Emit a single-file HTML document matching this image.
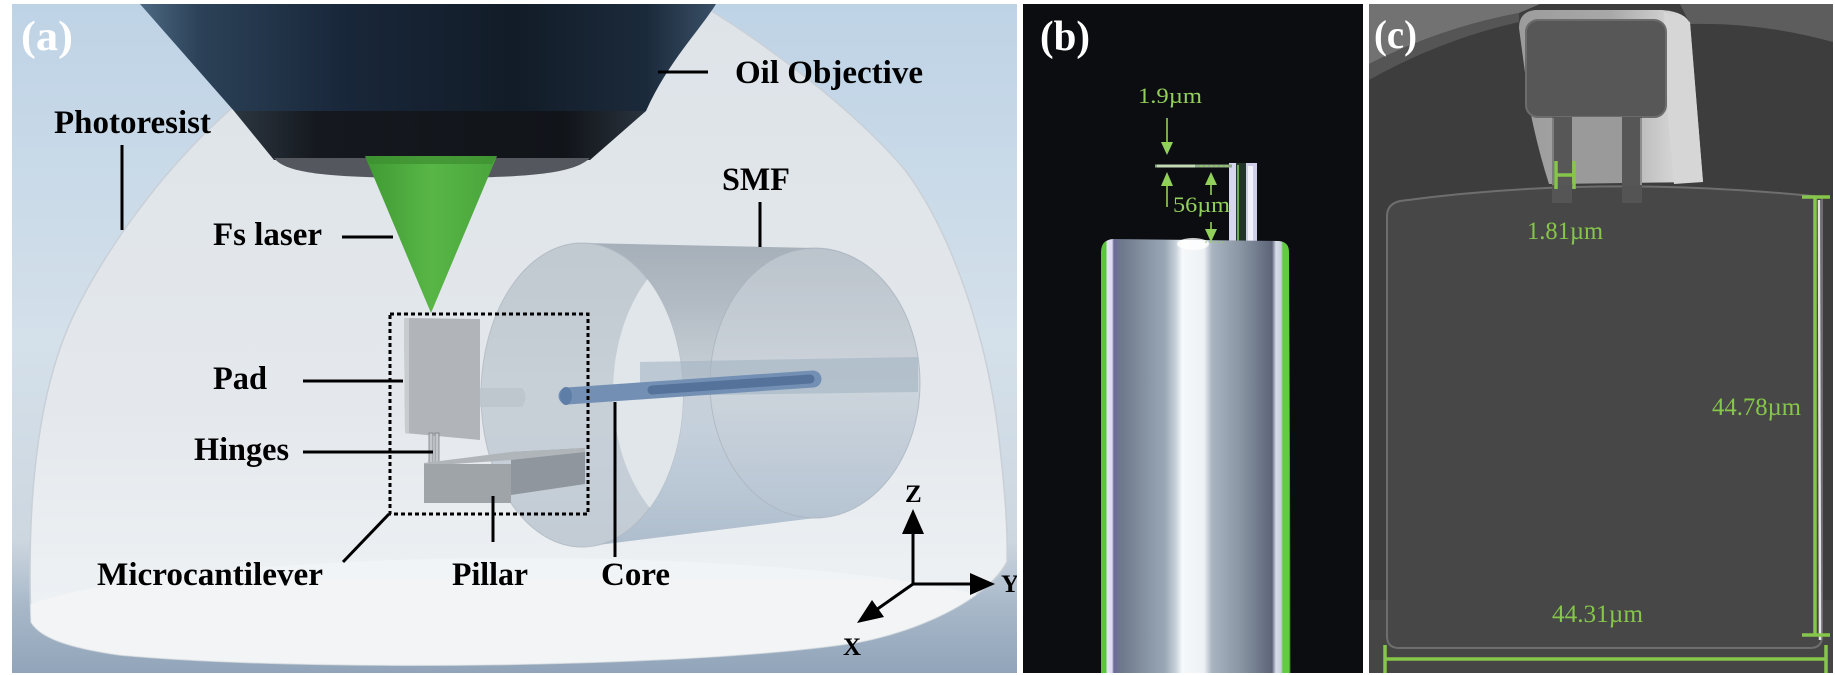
<!DOCTYPE html>
<html><head><meta charset="utf-8">
<style>
html,body{margin:0;padding:0;background:#fff;}
svg{display:block;}
</style></head><body>
<svg width="1835" height="675" viewBox="0 0 1835 675" xmlns="http://www.w3.org/2000/svg">
<defs>
  <linearGradient id="sky" x1="0" y1="4" x2="0" y2="673" gradientUnits="userSpaceOnUse">
    <stop offset="0" stop-color="#bed3e6"/>
    <stop offset="0.5" stop-color="#d4e0ea"/>
    <stop offset="0.8" stop-color="#cdd7e0"/>
    <stop offset="0.9" stop-color="#a8b8c9"/>
    <stop offset="1" stop-color="#91a4b9"/>
  </linearGradient>
  <linearGradient id="dome" x1="0" y1="0" x2="0" y2="673" gradientUnits="userSpaceOnUse">
    <stop offset="0" stop-color="#dde3e8"/>
    <stop offset="0.6" stop-color="#e4e8ec"/>
    <stop offset="0.85" stop-color="#ecf0f3"/>
    <stop offset="1" stop-color="#f1f3f5"/>
  </linearGradient>
  <linearGradient id="obj" x1="140" y1="0" x2="716" y2="0" gradientUnits="userSpaceOnUse">
    <stop offset="0" stop-color="#4d6983"/>
    <stop offset="0.1" stop-color="#2c4258"/>
    <stop offset="0.35" stop-color="#19273a"/>
    <stop offset="0.65" stop-color="#121c28"/>
    <stop offset="0.88" stop-color="#1b2a3b"/>
    <stop offset="1" stop-color="#3a5067"/>
  </linearGradient>
  <linearGradient id="objb" x1="234" y1="0" x2="646" y2="0" gradientUnits="userSpaceOnUse">
    <stop offset="0" stop-color="#2c3640"/>
    <stop offset="0.2" stop-color="#15191f"/>
    <stop offset="0.8" stop-color="#111419"/>
    <stop offset="1" stop-color="#2a333d"/>
  </linearGradient>
  <linearGradient id="green" x1="365" y1="0" x2="497" y2="0" gradientUnits="userSpaceOnUse">
    <stop offset="0" stop-color="#3f9a33"/>
    <stop offset="0.5" stop-color="#58b646"/>
    <stop offset="1" stop-color="#49a53b"/>
  </linearGradient>
  <linearGradient id="cyl" x1="0" y1="243" x2="0" y2="547" gradientUnits="userSpaceOnUse">
    <stop offset="0" stop-color="#a1abb5"/>
    <stop offset="0.2" stop-color="#aeb7c0"/>
    <stop offset="0.45" stop-color="#c7cfd6"/>
    <stop offset="0.6" stop-color="#c2cedA"/>
    <stop offset="0.85" stop-color="#b3c2d1"/>
    <stop offset="1" stop-color="#a8b8c9"/>
  </linearGradient>
  <linearGradient id="backf" x1="0" y1="248" x2="0" y2="518" gradientUnits="userSpaceOnUse">
    <stop offset="0" stop-color="#c2cad2"/>
    <stop offset="0.5" stop-color="#cfd6dd"/>
    <stop offset="1" stop-color="#b7c5d3"/>
  </linearGradient>
  <linearGradient id="fiber" x1="1101" y1="0" x2="1291" y2="0" gradientUnits="userSpaceOnUse">
    <stop offset="0" stop-color="#58c83a"/>
    <stop offset="0.026" stop-color="#58c83a"/>
    <stop offset="0.032" stop-color="#e4e4f4"/>
    <stop offset="0.058" stop-color="#dcdcee"/>
    <stop offset="0.068" stop-color="#6c6a98"/>
    <stop offset="0.111" stop-color="#6e7a8c"/>
    <stop offset="0.337" stop-color="#9aa8b6"/>
    <stop offset="0.395" stop-color="#c8d2da"/>
    <stop offset="0.426" stop-color="#f6f8fa"/>
    <stop offset="0.542" stop-color="#eef2f5"/>
    <stop offset="0.584" stop-color="#a8b4c0"/>
    <stop offset="0.732" stop-color="#8a96a4"/>
    <stop offset="0.847" stop-color="#6a7486"/>
    <stop offset="0.9" stop-color="#5e6478"/>
    <stop offset="0.921" stop-color="#d8dcea"/>
    <stop offset="0.947" stop-color="#c8d0dc"/>
    <stop offset="0.958" stop-color="#62cc40"/>
    <stop offset="0.99" stop-color="#62cc40"/>
    <stop offset="1" stop-color="#0b0c0f"/>
  </linearGradient>
  <linearGradient id="pillar" x1="1519" y1="0" x2="1702" y2="0" gradientUnits="userSpaceOnUse">
    <stop offset="0" stop-color="#9c9c9c"/>
    <stop offset="0.5" stop-color="#a8a8a8"/>
    <stop offset="0.8" stop-color="#cfcfcf"/>
    <stop offset="1" stop-color="#e2e2e2"/>
  </linearGradient>
  <clipPath id="clipA"><rect x="12" y="4" width="1005" height="669"/></clipPath>
  <clipPath id="clipDome"><path d="M 31 622 C 28 540 30 420 67 330 C 90 275 150 180 232 108 L 330 4 L 700 4 C 760 40 850 105 905 170 C 950 230 985 330 998 430 C 1005 490 1008 530 1007 562 C 990 595 930 628 860 642 C 700 668 300 672 120 655 C 70 648 40 638 31 622 Z"/></clipPath>
  <clipPath id="clipFront"><ellipse cx="582" cy="395" rx="101" ry="152"/></clipPath>
  <clipPath id="clipB"><rect x="1023" y="4" width="340" height="669"/></clipPath>
  <clipPath id="clipC"><rect x="1369" y="4" width="464" height="669"/></clipPath>
</defs>

<rect x="0" y="0" width="1835" height="675" fill="#ffffff"/>

<!-- ================= PANEL A ================= -->
<g clip-path="url(#clipA)">
  <rect x="12" y="4" width="1005" height="669" fill="url(#sky)"/>
  <!-- dome -->
  <path d="M 31 622 C 28 540 30 420 67 330 C 90 275 150 180 232 108 L 330 4 L 700 4 C 760 40 850 105 905 170 C 950 230 985 330 998 430 C 1005 490 1008 530 1007 562 C 990 595 930 628 860 642 C 700 668 300 672 120 655 C 70 648 40 638 31 622 Z" fill="url(#dome)" stroke="#c9d0d7" stroke-width="1.5"/>
  <g clip-path="url(#clipDome)">
    <ellipse cx="520" cy="628" rx="520" ry="70" fill="#f2f4f6" opacity="0.85"/>
  </g>

  <!-- objective -->
  <path d="M 140 4 L 716 4 C 700 30 668 62 646 111 L 234 111 Z" fill="url(#obj)"/>
  <path d="M 234 111 L 646 111 L 590 160 L 274 160 Z" fill="url(#objb)"/>
  <path d="M 274 158 L 590 158 C 575 172 540 178 430 178 C 320 178 285 172 274 158 Z" fill="#54585e"/>
  <!-- laser cone -->
  <polygon points="365,156 497,156 431,313" fill="url(#green)"/>
  <polygon points="365,156 497,156 492,164 370,164" fill="#3d8e31" opacity="0.7"/>

  <!-- SMF cylinder -->
  <path d="M 582 243 L 815 248 A 105 135 0 0 1 815 518 L 582 547 A 101 152 0 0 1 582 243 Z" fill="url(#cyl)" opacity="0.92"/>
  <ellipse cx="815" cy="383" rx="105" ry="135" fill="url(#backf)" opacity="0.75" stroke="#aab4be" stroke-width="1"/>
  <ellipse cx="582" cy="395" rx="101" ry="152" fill="#c8d0d7" opacity="0.8" stroke="#b2bac2" stroke-width="1"/>
  <g clip-path="url(#clipFront)">
    <ellipse cx="714" cy="392" rx="101" ry="150" fill="#e0e6ea"/>
  </g>
  <!-- cladding band -->
  <path d="M 640 362 L 918 357 L 918 392 L 640 396 Z" fill="#9fb0c1" opacity="0.55"/>
  <!-- small rod left -->
  <path d="M 480 388 L 522 388 Q 529 397 522 407 L 480 407 Z" fill="#bcc5cd" opacity="0.9"/>
  <!-- core -->
  <line x1="567" y1="396" x2="813" y2="379" stroke="#7390b4" stroke-width="17" stroke-linecap="round"/>
  <line x1="652" y1="390" x2="810" y2="379" stroke="#55729a" stroke-width="9" stroke-linecap="round"/>
  <ellipse cx="566" cy="396" rx="6" ry="9" fill="#5e7ea8"/>

  <!-- pad / hinges / cantilever -->
  <polygon points="404,318 480,319 480,440 405,433" fill="#b1b5b9"/>
  <polygon points="404,318 409,318 409,434 405,433" fill="#c9cccf"/>
  <rect x="429" y="433" width="4" height="31" fill="#c3c7cb" stroke="#7a7f84" stroke-width="0.8"/>
  <rect x="435" y="433" width="4" height="31" fill="#c3c7cb" stroke="#7a7f84" stroke-width="0.8"/>
  <polygon points="511,452 585,448 585,484 511,495" fill="#8f969d"/>
  <polygon points="424,463 511,452 585,448 585,452 511,460 424,466" fill="#b0b5ba"/>
  <rect x="424" y="464" width="87" height="39" fill="#9fa4a9"/>

  <!-- dashed box -->
  <rect x="390" y="314" width="198" height="200" fill="none" stroke="#000" stroke-width="3" stroke-dasharray="4 3"/>

  <!-- leaders -->
  <g stroke="#000" stroke-width="3" fill="none">
    <line x1="658" y1="72" x2="708" y2="72"/>
    <line x1="122" y1="145" x2="122" y2="230"/>
    <line x1="342" y1="237" x2="393" y2="237"/>
    <line x1="760" y1="202" x2="760" y2="247"/>
    <line x1="303" y1="381" x2="403" y2="381"/>
    <line x1="303" y1="452" x2="433" y2="452"/>
    <line x1="343" y1="562" x2="389" y2="514"/>
    <line x1="493" y1="496" x2="493" y2="542"/>
    <line x1="615" y1="402" x2="615" y2="557"/>
  </g>

  <!-- axes -->
  <g stroke="#000" stroke-width="3">
    <line x1="913" y1="585" x2="913" y2="530"/>
    <line x1="912" y1="584" x2="972" y2="584"/>
    <line x1="913" y1="584" x2="876" y2="610"/>
  </g>
  <polygon points="913,509 902,534 924,534" fill="#000"/>
  <polygon points="995,584 970,573 970,595" fill="#000"/>
  <polygon points="857,623 872,600 884,617" fill="#000"/>

  <!-- labels -->
  <g font-family="'Liberation Serif','Times New Roman',serif" font-weight="bold" font-size="33" fill="#000">
    <text x="735" y="83" textLength="188" lengthAdjust="spacingAndGlyphs">Oil Objective</text>
    <text x="54" y="133" textLength="157" lengthAdjust="spacingAndGlyphs">Photoresist</text>
    <text x="213" y="245" textLength="109" lengthAdjust="spacingAndGlyphs">Fs laser</text>
    <text x="722" y="190" textLength="68" lengthAdjust="spacingAndGlyphs">SMF</text>
    <text x="213" y="389" textLength="54" lengthAdjust="spacingAndGlyphs">Pad</text>
    <text x="194" y="460" textLength="95" lengthAdjust="spacingAndGlyphs">Hinges</text>
    <text x="97" y="585" textLength="226" lengthAdjust="spacingAndGlyphs">Microcantilever</text>
    <text x="452" y="585" textLength="76" lengthAdjust="spacingAndGlyphs">Pillar</text>
    <text x="601" y="585" textLength="69" lengthAdjust="spacingAndGlyphs">Core</text>
  </g>
  <g font-family="'Liberation Serif','Times New Roman',serif" font-weight="bold" font-size="25" fill="#000">
    <text x="905" y="502">Z</text>
    <text x="1001" y="592">Y</text>
    <text x="843" y="655">X</text>
  </g>
  <text x="21" y="50" font-family="'Liberation Serif','Times New Roman',serif" font-weight="bold" font-size="42" fill="#ffffff" textLength="52" lengthAdjust="spacingAndGlyphs">(a)</text>
</g>

<!-- ================= PANEL B ================= -->
<g clip-path="url(#clipB)">
  <rect x="1023" y="4" width="340" height="669" fill="#0c0d10"/>
  <!-- hinges / pillar side view -->
  <rect x="1236" y="163" width="10" height="82" fill="#23352a"/>
  <rect x="1229" y="163" width="7" height="82" fill="#d6d6ee"/>
  <rect x="1237" y="165" width="2" height="80" fill="#6aa85a"/>
  <rect x="1246" y="163" width="11" height="82" fill="#cfcfea"/>
  <rect x="1248" y="166" width="5" height="78" fill="#f2f2fa"/>
  <!-- pad edge -->
  <line x1="1155" y1="166" x2="1232" y2="166" stroke="#8ea888" stroke-width="3"/>
  <line x1="1157" y1="166" x2="1195" y2="166" stroke="#c4dab6" stroke-width="3"/>
  <!-- fiber -->
  <path d="M 1101 673 L 1101 252 Q 1101 240 1113 239 L 1279 241 Q 1289 242 1289 252 L 1291 673 Z" fill="url(#fiber)"/>
  <ellipse cx="1193" cy="244" rx="16" ry="6" fill="#ffffff" opacity="0.8"/>
  <!-- annotations -->
  <g fill="#92d05c" stroke="none">
    <polygon points="1161,142 1173,142 1167,155"/>
    <polygon points="1167,172 1161,186 1173,186"/>
    <polygon points="1211,172 1205,185 1217,185"/>
    <polygon points="1205,229 1217,229 1211,242"/>
  </g>
  <g stroke="#92d05c" stroke-width="1.6">
    <line x1="1167" y1="118" x2="1167" y2="143"/>
    <line x1="1167" y1="185" x2="1167" y2="207"/>
    <line x1="1211" y1="184" x2="1211" y2="195"/>
    <line x1="1211" y1="222" x2="1211" y2="230"/>
    <line x1="1205" y1="242" x2="1225" y2="242" stroke-dasharray="2 2" stroke-width="1"/>
    <line x1="1200" y1="166" x2="1230" y2="166" stroke-dasharray="3 2" stroke-width="1.2"/>
  </g>
  <g font-family="'Liberation Serif','Times New Roman',serif" font-size="22" fill="#92d05c">
    <text x="1138" y="103" textLength="64" lengthAdjust="spacingAndGlyphs">1.9µm</text>
    <text x="1173" y="212" textLength="57" lengthAdjust="spacingAndGlyphs">56µm</text>
  </g>
  <text x="1040" y="50" font-family="'Liberation Serif','Times New Roman',serif" font-weight="bold" font-size="42" fill="#ffffff" textLength="50" lengthAdjust="spacingAndGlyphs">(b)</text>
</g>

<!-- ================= PANEL C ================= -->
<g clip-path="url(#clipC)">
  <rect x="1369" y="4" width="464" height="669" fill="#3d3d3d"/>
  <path d="M 1369 4 L 1540 4 L 1519 13 Q 1440 28 1369 64 Z" fill="#727272"/>
  <path d="M 1369 64 Q 1440 28 1519 13 L 1519 22 Q 1440 40 1369 80 Z" fill="#555555"/>
  <path d="M 1680 4 L 1833 4 L 1833 42 Q 1760 22 1690 24 Z" fill="#5d5d5d"/>
  <rect x="1369" y="600" width="464" height="73" fill="#454545"/>

  <!-- pillar structure -->
  <path d="M 1519 28 Q 1519 12 1535 10 L 1662 10 Q 1686 12 1690 24 L 1703 182 L 1549 184 Q 1538 150 1530 110 Z" fill="url(#pillar)"/>
  <polygon points="1664,12 1690,22 1703,182 1674,184 1668,117" fill="#d6d6d6"/>
  <rect x="1526" y="20" width="140" height="97" rx="12" fill="#575757" stroke="#6c6c6c" stroke-width="2"/>
  <rect x="1572" y="117" width="50" height="66" fill="#9a9a9a"/>
  <rect x="1552" y="117" width="20" height="86" fill="#575757"/>
  <line x1="1553" y1="118" x2="1553" y2="202" stroke="#8a8a8a" stroke-width="1.5"/>
  <rect x="1622" y="117" width="20" height="86" fill="#565656"/>
  <line x1="1641" y1="118" x2="1641" y2="202" stroke="#a0a0a0" stroke-width="1.5"/>

  <!-- big pad -->
  <path d="M 1387 216 Q 1387 204 1400 201 Q 1600 174 1822 197 L 1822 638 Q 1821 648 1810 648 L 1399 648 Q 1387 648 1387 636 Z" fill="#474747" stroke="#6e6e6e" stroke-width="2"/>
  <line x1="1819" y1="200" x2="1820" y2="640" stroke="#e4e4e4" stroke-width="2.5"/>
  <rect x="1552" y="185" width="20" height="18" fill="#555555"/>
  <rect x="1622" y="185" width="20" height="18" fill="#545454"/>

  <!-- annotations -->
  <g stroke="#86c64a" stroke-width="3.5" fill="none">
    <line x1="1556" y1="161" x2="1556" y2="189"/>
    <line x1="1574" y1="161" x2="1574" y2="189"/>
    <line x1="1556" y1="175" x2="1574" y2="175"/>
    <line x1="1815" y1="197" x2="1815" y2="635"/>
    <line x1="1802" y1="197" x2="1830" y2="197"/>
    <line x1="1802" y1="635" x2="1830" y2="635"/>
    <line x1="1385" y1="659" x2="1826" y2="659"/>
    <line x1="1385" y1="645" x2="1385" y2="673"/>
    <line x1="1826" y1="645" x2="1826" y2="673"/>
  </g>
  <g font-family="'Liberation Serif','Times New Roman',serif" font-size="25" fill="#86c64a">
    <text x="1527" y="239" textLength="76" lengthAdjust="spacingAndGlyphs">1.81µm</text>
    <text x="1712" y="415" textLength="89" lengthAdjust="spacingAndGlyphs">44.78µm</text>
    <text x="1552" y="622" textLength="91" lengthAdjust="spacingAndGlyphs">44.31µm</text>
  </g>
  <text x="1374" y="48" font-family="'Liberation Serif','Times New Roman',serif" font-weight="bold" font-size="40" fill="#ffffff" textLength="43" lengthAdjust="spacingAndGlyphs">(c)</text>
</g>
</svg>
</body></html>
